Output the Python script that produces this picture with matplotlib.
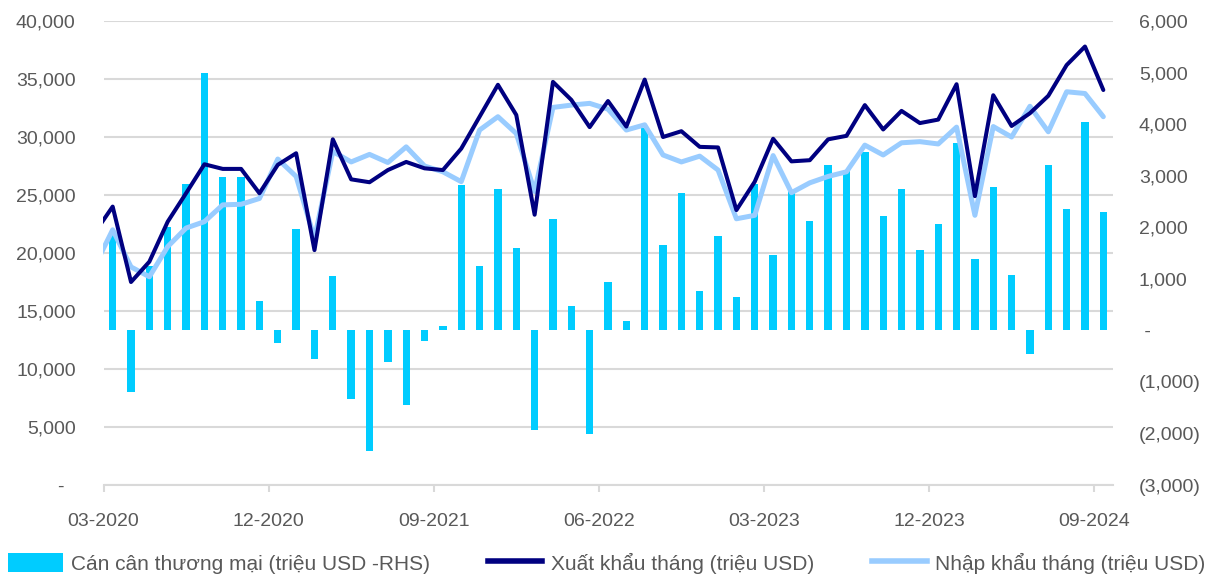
import numpy as np
import matplotlib; matplotlib.use("Agg")
import matplotlib.pyplot as plt
from matplotlib.patches import Patch
from matplotlib.lines import Line2D

plt.rcParams["font.family"] = ["Liberation Sans", "DejaVu Sans"]

# ── Dữ liệu ─────────────────────────────────────────────────────────────────
# Tháng cho đường line: 02-2020 .. 09-2024 (02-2020 nằm ngoài trục, bị cắt)
months = [f"{m:02d}-{y}" for y in range(2020, 2025) for m in range(1, 13)]
months = months[1:months.index("09-2024") + 1]          # 56 tháng

export_m = [21700, 24000, 17500, 19250, 22700, 25150, 27650, 27250, 27250, 25150,
            27600, 28600, 20250, 29800, 26350, 26100, 27150, 27850, 27300, 27150,
            29000, 31750, 34500, 31900, 23300, 34750, 33200, 30850, 33100, 30900,
            34950, 30000, 30500, 29150, 29100, 23700, 26150, 29850, 27900, 28000,
            29800, 30100, 32750, 30650, 32250, 31200, 31500, 34550, 24900, 33600,
            30950, 32050, 33550, 36200, 37800, 34050]
import_m = [18800, 22000, 18800, 17950, 20550, 22150, 22700, 24150, 24200, 24700,
            28100, 26600, 21250, 28750, 27850, 28500, 27800, 29150, 27500, 27000,
            26150, 30600, 31750, 30300, 25300, 32550, 32750, 32900, 32400, 30600,
            31050, 28450, 27850, 28350, 27150, 22950, 23250, 28400, 25200, 26050,
            26600, 27000, 29300, 28450, 29500, 29600, 29400, 30850, 23250, 30900,
            30000, 32650, 30450, 33900, 33750, 31750]
# Cán cân: 03-2020 .. 09-2024 (trục phải)
balance = [1900, -1200, 1250, 2000, 2830, 5000, 2980, 2980, 560, -240,
           1960, -550, 1050, -1330, -2350, -610, -1450, -210, 80, 2810,
           1250, 2740, 1600, -1940, 2150, 470, -2020, 930, 180, 3930,
           1650, 2660, 760, 1830, 650, 2830, 1460, 2700, 2120, 3200,
           3090, 3450, 2210, 2740, 1550, 2060, 3640, 1380, 2780, 1070,
           -450, 3200, 2360, 4050, 2290]

left_ticks = [0, 5000, 10000, 15000, 20000, 25000, 30000, 35000, 40000]
right_ticks = [-3000, -2000, -1000, 0, 1000, 2000, 3000, 4000, 5000, 6000]
xtick_step = 9

C_BAR, C_EXP, C_IMP = "#00CCFF", "#000080", "#99CCFF"
GRID, TXT = "#D9D9D9", "#595959"
FS = 14

def fmt_left(v):
    return "-  " if v == 0 else f"{v:,.0f}"

def fmt_right(v):
    if v == 0:
        return " -"
    return f"({abs(v):,.0f})" if v < 0 else f"{v:,.0f}"

x_line = np.arange(len(months))
x_bar = np.arange(1, len(balance) + 1)

fig = plt.figure(figsize=(12.16, 5.77), dpi=100)
pos = [103.5 / 1216, 92 / 577, 1009 / 1216, 464 / 577]

# trục nền: lưới + nhãn trái
ax = fig.add_axes(pos)
ax.set_ylim(0, 40000)
ax.set_yticks(left_ticks)
ax.set_yticklabels([fmt_left(v) for v in left_ticks])
ax.grid(axis="y", color=GRID, linewidth=1.5)
ax.set_axisbelow(True)

# cột cán cân (trục phải)
axb = ax.twinx()
axb.bar(x_bar, balance, width=0.4, color=C_BAR, zorder=2)
axb.set_ylim(-3000, 6000)
axb.set_yticks(right_ticks)
axb.set_yticklabels([fmt_right(v) for v in right_ticks])

# đường xuất / nhập khẩu (trục trái)
axl = ax.twinx()
axl.plot(x_line, import_m, color=C_IMP, lw=3.6, solid_joinstyle="round", solid_capstyle="round")
axl.plot(x_line, export_m, color=C_EXP, lw=2.9, solid_joinstyle="round", solid_capstyle="round")
axl.set_ylim(0, 40000)
axl.set_yticks([])

xt = np.arange(1, len(months), xtick_step) - 0.5
for a in (ax, axb, axl):
    a.set_xlim(0.5, len(months) - 0.5)
    for s in ("top", "left", "right", "bottom"):
        a.spines[s].set_visible(False)
ax.spines["bottom"].set_visible(True)
ax.spines["bottom"].set_color(GRID)
ax.spines["bottom"].set_linewidth(1.5)
ax.set_xticks(xt)
ax.set_xticklabels([months[int(t + 0.5)] for t in xt])
ax.tick_params(axis="x", length=5, width=1.5, color=GRID, pad=15, labelsize=FS, labelcolor=TXT)
ax.tick_params(axis="y", length=0, pad=20, labelsize=FS, labelcolor=TXT)
axb.tick_params(axis="y", length=0, pad=19, labelsize=FS, labelcolor=TXT)

handles = [Patch(facecolor=C_BAR, edgecolor="none"),
           Line2D([], [], color=C_EXP, lw=4),
           Line2D([], [], color=C_IMP, lw=4)]
labels = ["Cán cân thương mại (triệu USD -RHS)",
          "Xuất khẩu tháng (triệu USD)",
          "Nhập khẩu tháng (triệu USD)"]
fig.legend(handles, labels, loc="center", bbox_to_anchor=(0.499, 0.024), ncol=3,
           frameon=False, fontsize=15, labelcolor=TXT, handlelength=2.6,
           handleheight=1.0, handletextpad=0.4, columnspacing=2.8)

fig.savefig("out.png", dpi=100)
